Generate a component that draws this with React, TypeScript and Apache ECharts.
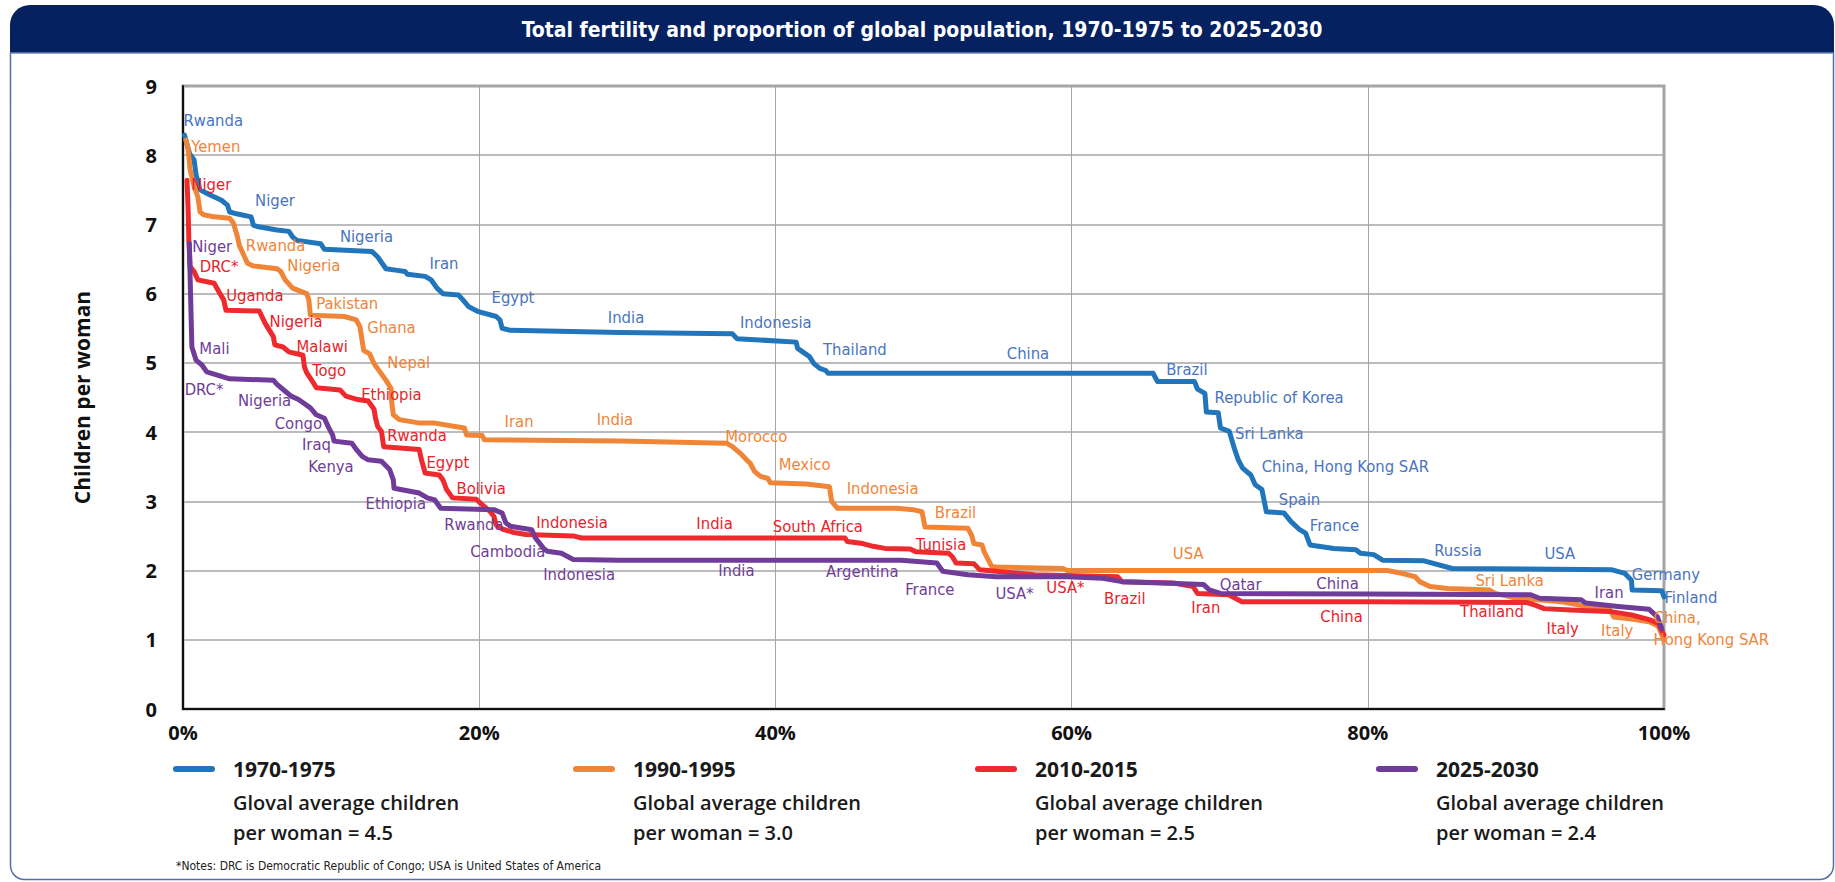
import React, { useEffect, useRef } from "react";
import * as echarts from "echarts";

// ---------- data ----------
const xTicks = [0, 20, 40, 60, 80, 100];
const periods = ["1970-1975", "1990-1995", "2010-2015", "2025-2030"];
const averageTexts = [
  "Gloval average children",
  "Global average children",
  "Global average children",
  "Global average children",
];
const averageValues = ["4.5", "3.0", "2.5", "2.4"];
const notes = "*Notes: DRC is Democratic Republic of Congo; USA is United States of America";
const titleText = "Total fertility and proportion of global population, 1970-1975 to 2025-2030";

// [cumulative % of global population, children per woman]
const tfr1970: [number, number][] = [
  [0.1, 8.29], [0.45, 8.02], [0.75, 7.93], [0.88, 7.72], [1.15, 7.5], [1.8, 7.43], [2.6, 7.35], [3.0, 7.28],
  [3.15, 7.18], [3.7, 7.15], [4.6, 7.11], [4.75, 6.99], [5.0, 6.97], [6.35, 6.92], [7.15, 6.9], [7.4, 6.82],
  [7.7, 6.77], [9.3, 6.72], [9.55, 6.64], [12.75, 6.61], [13.15, 6.53], [13.7, 6.36], [14.35, 6.34], [15.0, 6.32],
  [15.15, 6.28], [16.35, 6.25], [16.75, 6.2], [17.15, 6.08], [17.55, 6.0], [18.6, 5.98], [18.9, 5.91], [19.3, 5.81],
  [19.95, 5.74], [21.15, 5.67], [21.4, 5.62], [21.55, 5.5], [22.1, 5.47], [29.5, 5.44], [37.1, 5.42], [37.4, 5.35],
  [41.4, 5.3], [41.5, 5.21], [42.3, 5.09], [42.6, 4.99], [43.0, 4.92], [43.4, 4.89], [43.55, 4.85], [65.5, 4.85],
  [65.8, 4.73], [68.3, 4.73], [68.5, 4.62], [69.0, 4.56], [69.1, 4.29], [69.9, 4.28], [70.05, 4.06], [70.65, 4.01],
  [70.95, 3.79], [71.25, 3.6], [71.55, 3.48], [72.1, 3.38], [72.4, 3.24], [72.85, 3.17], [73.15, 2.85], [74.35, 2.83],
  [74.8, 2.71], [75.4, 2.59], [75.8, 2.54], [76.1, 2.37], [77.7, 2.32], [79.2, 2.3], [79.5, 2.25], [80.4, 2.23],
  [81.0, 2.15], [83.8, 2.14], [85.7, 2.03], [96.5, 2.01], [97.35, 1.96], [97.8, 1.86], [97.85, 1.72], [99.85, 1.71],
  [100, 1.62],
];
const tfr1990: [number, number][] = [
  [0.2, 8.22], [0.35, 8.08], [0.48, 7.79], [0.75, 7.55], [1.0, 7.4], [1.15, 7.18], [1.4, 7.14], [2.1, 7.11],
  [3.15, 7.09], [3.4, 7.02], [3.68, 6.82], [3.8, 6.7], [4.35, 6.44], [4.75, 6.4], [6.35, 6.36], [6.6, 6.32],
  [6.9, 6.2], [7.4, 6.08], [8.35, 6.0], [8.5, 5.91], [8.6, 5.69], [10.9, 5.67], [11.7, 5.62], [11.95, 5.52],
  [12.2, 5.18], [12.6, 5.13], [12.9, 4.99], [13.3, 4.87], [13.7, 4.75], [14.05, 4.63], [14.1, 4.42], [14.2, 4.25],
  [14.6, 4.18], [16.0, 4.13], [17.0, 4.13], [19.0, 4.06], [19.15, 3.96], [20.2, 3.95], [20.35, 3.89], [29.5, 3.87],
  [36.7, 3.84], [37.1, 3.79], [37.65, 3.69], [38.05, 3.6], [38.3, 3.55], [38.6, 3.43], [39.0, 3.36], [39.5, 3.33],
  [39.65, 3.27], [42.1, 3.25], [43.65, 3.21], [43.8, 3.0], [44.2, 2.9], [48.2, 2.9], [49.3, 2.88], [49.9, 2.85],
  [50.1, 2.63], [53.0, 2.61], [53.25, 2.51], [53.4, 2.39], [53.95, 2.37], [54.1, 2.27], [54.6, 2.06], [54.9, 2.05],
  [59.4, 2.03], [59.7, 2.0], [81.3, 2.0], [82.3, 1.96], [83.2, 1.91], [83.5, 1.84], [84.2, 1.77], [85.4, 1.74],
  [88.2, 1.72], [88.6, 1.67], [90.1, 1.6], [93.1, 1.55], [94.4, 1.5], [96.3, 1.45], [96.6, 1.33], [97.8, 1.3],
  [99.0, 1.26], [99.6, 1.2], [100, 1.0],
];
const tfr2010: [number, number][] = [
  [0.27, 7.64], [0.35, 7.2], [0.4, 6.73], [0.48, 6.39], [0.75, 6.32], [1.0, 6.2], [2.1, 6.15], [2.5, 6.0],
  [2.75, 5.91], [2.9, 5.76], [5.15, 5.75], [5.55, 5.57], [6.1, 5.38], [6.2, 5.26], [6.75, 5.23], [7.15, 5.16],
  [8.1, 5.11], [8.2, 4.94], [8.35, 4.86], [8.75, 4.73], [9.0, 4.64], [10.6, 4.61], [11.0, 4.52], [11.8, 4.47],
  [12.5, 4.45], [12.9, 4.33], [13.0, 4.2], [13.15, 4.08], [13.4, 4.01], [13.55, 3.79], [15.95, 3.75], [16.1, 3.6],
  [16.35, 3.41], [17.3, 3.38], [17.55, 3.31], [17.8, 3.17], [18.2, 3.05], [19.8, 3.03], [20.1, 2.97], [20.75, 2.85],
  [21.0, 2.78], [21.15, 2.66], [21.55, 2.6], [22.35, 2.55], [23.15, 2.52], [26.35, 2.5], [26.9, 2.47], [44.7, 2.47],
  [44.85, 2.42], [45.9, 2.39], [46.6, 2.35], [47.4, 2.32], [49.1, 2.31], [49.5, 2.27], [51.7, 2.25], [51.95, 2.2],
  [52.2, 2.11], [53.4, 2.1], [53.8, 2.01], [54.9, 1.99], [57.5, 1.94], [63.1, 1.91], [63.4, 1.84], [66.9, 1.82],
  [68.2, 1.77], [68.5, 1.67], [70.6, 1.65], [71.5, 1.55], [80.1, 1.55], [90.7, 1.54], [91.3, 1.5], [91.9, 1.45],
  [93.7, 1.43], [96.3, 1.41], [97.8, 1.36], [99.0, 1.29], [99.6, 1.24], [100, 1.07],
];
const tfr2025: [number, number][] = [
  [0.43, 6.73], [0.48, 6.24], [0.6, 5.23], [0.88, 5.04], [1.28, 4.97], [1.6, 4.87], [3.15, 4.77], [6.1, 4.75],
  [6.35, 4.69], [6.9, 4.59], [7.3, 4.52], [7.8, 4.47], [8.6, 4.35], [9.0, 4.25], [9.55, 4.2], [9.8, 4.08],
  [10.1, 3.96], [10.2, 3.87], [11.4, 3.84], [11.7, 3.75], [12.1, 3.65], [12.5, 3.6], [13.4, 3.58], [13.95, 3.46],
  [14.2, 3.31], [14.25, 3.19], [15.95, 3.12], [16.5, 3.05], [17.0, 3.02], [17.4, 2.9], [21.0, 2.88], [21.55, 2.83],
  [21.8, 2.69], [22.1, 2.64], [23.55, 2.59], [23.8, 2.47], [24.35, 2.32], [24.6, 2.28], [25.55, 2.25], [26.35, 2.16],
  [29.5, 2.15], [48.5, 2.15], [50.9, 2.11], [51.3, 1.99], [53.0, 1.94], [54.9, 1.91], [59.7, 1.91], [62.1, 1.89],
  [63.4, 1.84], [66.1, 1.82], [68.9, 1.8], [69.3, 1.72], [70.05, 1.67], [80.1, 1.66], [91.0, 1.65], [91.6, 1.6],
  [94.4, 1.58], [94.7, 1.53], [96.9, 1.48], [99.0, 1.44], [99.55, 1.33], [99.85, 1.16],
];

// country annotations: [name, x %, children per woman]
const labels1970: [string, number, number][] = [
  ["Rwanda", 0, 8.5], ["Niger", 4.83, 7.35], ["Nigeria", 10.56, 6.83], ["Iran", 16.61, 6.43], ["Egypt", 20.8, 5.95],
  ["India", 28.65, 5.66], ["Indonesia", 37.57, 5.58], ["Thailand", 43.18, 5.19], ["China", 55.59, 5.14],
  ["Brazil", 66.35, 4.9], ["Republic of Korea", 69.62, 4.5], ["Sri Lanka", 71.0, 3.98],
  ["China, Hong Kong SAR", 72.8, 3.51], ["Spain", 73.95, 3.02], ["France", 76.05, 2.65], ["Russia", 84.45, 2.29],
  ["USA", 91.89, 2.24], ["Germany", 97.79, 1.95], ["Finland", 100, 1.61],
];
const labels1990: [string, number, number][] = [
  ["Yemen", 0.53, 8.13], ["Rwanda", 4.21, 6.69], ["Nigeria", 7.01, 6.4], ["Pakistan", 8.96, 5.86], ["Ghana", 12.4, 5.51],
  ["Nepal", 13.76, 5.01], ["Iran", 21.68, 4.16], ["India", 27.9, 4.18], ["Morocco", 36.58, 3.94], ["Mexico", 40.19, 3.53],
  ["Indonesia", 44.78, 3.19], ["Brazil", 50.73, 2.84], ["USA", 66.8, 2.25], ["Sri Lanka", 87.23, 1.85],
  ["Italy", 95.72, 1.13], ["China,\nHong Kong SAR", 99.26, 1.17],
];
const labels2010: [string, number, number][] = [
  ["Niger", 0.53, 7.57], ["DRC*", 1.09, 6.39], ["Uganda", 2.88, 5.98], ["Nigeria", 5.81, 5.6], ["Malawi", 7.63, 5.23],
  ["Togo", 8.69, 4.89], ["Ethiopia", 12.0, 4.54], ["Rwanda", 13.76, 3.95], ["Egypt", 16.4, 3.56], ["Bolivia", 18.43, 3.18],
  ["Indonesia", 23.81, 2.69], ["India", 34.63, 2.68], ["South Africa", 39.79, 2.64], ["Tunisia", 49.45, 2.38],
  ["USA*", 58.26, 1.76], ["Brazil", 62.16, 1.6], ["Iran", 68.05, 1.46], ["China", 76.76, 1.33], ["Thailand", 86.2, 1.41],
  ["Italy", 92.04, 1.16],
];
const labels2025: [string, number, number][] = [
  ["Niger", 0.59, 6.68], ["Mali", 1.07, 5.21], ["DRC*", 0.08, 4.62], ["Nigeria", 3.68, 4.46], ["Congo", 6.16, 4.13],
  ["Iraq", 8.0, 3.82], ["Kenya", 8.43, 3.5], ["Ethiopia", 12.29, 2.97], ["Rwanda", 17.6, 2.66], ["Cambodia", 19.36, 2.28],
  ["Indonesia", 24.29, 1.94], ["India", 36.1, 2.0], ["Argentina", 43.39, 1.98], ["France", 48.73, 1.72],
  ["USA*", 54.82, 1.67], ["Qatar", 69.97, 1.8], ["China", 76.49, 1.82], ["Iran", 95.28, 1.69],
];

// ---------- styles ----------
const lineColors = ["#2175bb", "#f08537", "#ee2a2f", "#6f3c99"];
const labelColors = ["#4a74c0", "#f08537", "#e8232a", "#6f3d97"];
const NARROW = "'DejaVu Sans Condensed', 'Liberation Sans Narrow', sans-serif";
const BOLD = "'Open Sans', 'Noto Sans', 'Liberation Sans', sans-serif";

export default function App() {
  const ref = useRef<HTMLDivElement>(null);

  useEffect(() => {
    if (!ref.current) return;
    const chart = echarts.init(ref.current, undefined, { renderer: "svg" });

    const seriesData = [tfr1970, tfr1990, tfr2010, tfr2025];
    const labelData = [labels1970, labels1990, labels2010, labels2025];

    const lineSeries = seriesData.map((d, i) => ({
      type: "line",
      name: periods[i],
      data: d,
      showSymbol: false,
      symbol: "none",
      z: 3 + i,
      silent: true,
      lineStyle: { color: lineColors[i], width: 5, cap: "round", join: "round" },
    }));

    const labelSeries = labelData.map((d, i) => ({
      type: "scatter",
      name: periods[i] + " labels",
      data: d.map((l) => ({ name: l[0], value: [l[1], l[2]] })),
      symbolSize: 1,
      itemStyle: { color: "rgba(0,0,0,0)" },
      silent: true,
      clip: false,
      z: 10,
      label: {
        show: true,
        opacity: 1,
        position: "right",
        distance: 0,
        formatter: "{b}",
        color: labelColors[i],
        fontFamily: NARROW,
        fontSize: 16.5,
        lineHeight: 22,
      },
    }));

    const colX = [174, 574, 976, 1377];
    const legendGraphics: any[] = [];
    periods.forEach((p, i) => {
      legendGraphics.push({
        type: "line",
        shape: { x1: colX[i] + 2, y1: 769, x2: colX[i] + 38, y2: 769 },
        style: { stroke: lineColors[i], lineWidth: 6, lineCap: "round" },
      });
      legendGraphics.push({
        type: "text",
        x: colX[i] + 59,
        y: 769,
        style: { text: p, font: `bold 21px ${BOLD}`, fill: "#1a1a1a", textVerticalAlign: "middle" },
      });
      legendGraphics.push({
        type: "text",
        x: colX[i] + 59,
        y: 802,
        style: { text: averageTexts[i], font: `600 20px ${BOLD}`, fill: "#1a1a1a", textVerticalAlign: "middle" },
      });
      legendGraphics.push({
        type: "text",
        x: colX[i] + 59,
        y: 832,
        style: {
          text: "per woman = " + averageValues[i],
          font: `600 20px ${BOLD}`,
          fill: "#1a1a1a",
          textVerticalAlign: "middle",
        },
      });
    });

    const option: any = {
      animation: false,
      grid: {
        left: 183,
        right: 171,
        top: 86,
        bottom: 173,
        show: true,
        borderColor: "#a3a3a3",
        borderWidth: 3,
      },
      xAxis: {
        type: "value",
        min: xTicks[0],
        max: xTicks[xTicks.length - 1],
        interval: 20,
        axisLine: { show: true, onZero: false, lineStyle: { color: "#111", width: 2 } },
        axisTick: { show: false },
        splitLine: { show: true, lineStyle: { color: "#a6a6a6", width: 1 } },
        axisLabel: {
          formatter: "{value}%",
          fontFamily: BOLD,
          fontWeight: "bold",
          fontSize: 20,
          color: "#111",
          margin: 13,
        },
      },
      yAxis: {
        type: "value",
        min: 0,
        max: 9,
        interval: 1,
        name: "Children per woman",
        nameLocation: "middle",
        nameGap: 91,
        nameTextStyle: { fontFamily: BOLD, fontWeight: "bold", fontSize: 21, color: "#111" },
        axisLine: { show: true, onZero: false, lineStyle: { color: "#111", width: 2 } },
        axisTick: { show: false },
        splitLine: { show: true, lineStyle: { color: "#a6a6a6", width: 1.5 } },
        axisLabel: { fontFamily: BOLD, fontWeight: "bold", fontSize: 20, color: "#111", margin: 26 },
      },
      graphic: [
        {
          type: "rect",
          z: -10,
          shape: { x: 10.5, y: 52, width: 1823, height: 827.5, r: [0, 0, 14, 14] },
          style: { fill: "#fff", stroke: "#5a6ea6", lineWidth: 1.5 },
        },
        {
          type: "rect",
          z: -9,
          shape: { x: 10, y: 5, width: 1824, height: 48, r: [20, 20, 0, 0] },
          style: { fill: "#05215f" },
        },
        {
          type: "line",
          z: -8,
          shape: { x1: 10, y1: 53, x2: 1834, y2: 53 },
          style: { stroke: "#6b82bb", lineWidth: 1.5 },
        },
        {
          type: "text",
          x: 922,
          y: 30,
          style: {
            text: titleText,
            font: `bold 21px ${NARROW}`,
            fill: "#ffffff",
            textAlign: "center",
            textVerticalAlign: "middle",
          },
        },
        ...legendGraphics,
        {
          type: "text",
          x: 176,
          y: 866,
          style: { text: notes, font: `12px ${NARROW}`, fill: "#222", textVerticalAlign: "middle" },
        },
      ],
      series: [...lineSeries, ...labelSeries],
    };

    chart.setOption(option);
    return () => chart.dispose();
  }, []);

  return (
    <div
      ref={ref}
      style={{ position: "fixed", left: 0, top: 0, width: 1835, height: 882, background: "#fff" }}
    />
  );
}
